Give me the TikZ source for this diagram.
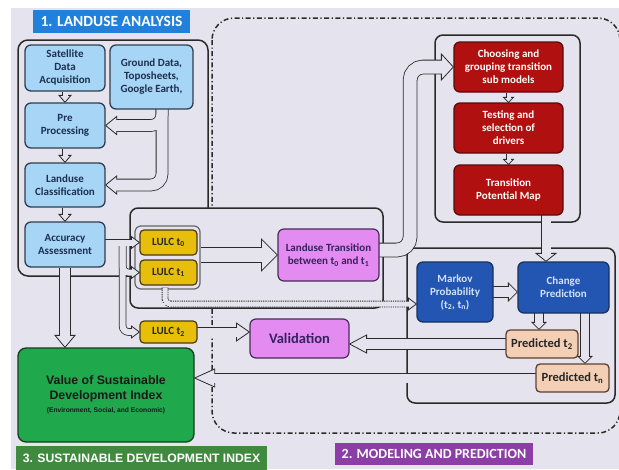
\documentclass[tikz,border=0pt]{standalone}
\usepackage{fontspec}
\setmainfont{Carlito}
\newfontfamily\arialf{Liberation Sans}
\usetikzlibrary{calc}
\pgfdeclarelayer{frames}
\pgfdeclarelayer{pipeO}
\pgfdeclarelayer{pipeH}
\pgfdeclarelayer{pipeI}
\pgfsetlayers{frames,pipeO,pipeH,pipeI,main}
\definecolor{bgc}{HTML}{E5E4EE}
\definecolor{linec}{HTML}{2A2A2A}
\definecolor{lblue}{HTML}{A6D5F5}
\definecolor{lbord}{HTML}{2F3E4E}
\definecolor{navyt}{HTML}{1E2F4F}
\definecolor{cgold}{HTML}{E8BE0C}
\definecolor{cgoldb}{HTML}{4A3A10}
\definecolor{cviol}{HTML}{E38BF1}
\definecolor{cviolb}{HTML}{4A2A5A}
\definecolor{cviolt}{HTML}{36225E}
\definecolor{cred}{HTML}{B0100F}
\definecolor{credb}{HTML}{5A0A0A}
\definecolor{cblue}{HTML}{2356B2}
\definecolor{cblueb}{HTML}{16325F}
\definecolor{cbluet}{HTML}{D3E3F8}
\definecolor{cpeach}{HTML}{F3CFB5}
\definecolor{cpeachb}{HTML}{5E4030}
\definecolor{cgreen}{HTML}{20A84C}
\definecolor{cgreenb}{HTML}{1B3A1E}
\definecolor{tblue}{HTML}{2080DA}
\definecolor{tpurple}{HTML}{8C3DA6}
\definecolor{tgreen}{HTML}{3F8A3E}
\newcommand\flowpipe[3][]{%
\begin{pgfonlayer}{pipeO}\draw[pipeout, line width={#2pt+1.6pt}, rounded corners=#2pt, #1] #3;\end{pgfonlayer}%
\begin{pgfonlayer}{pipeI}\draw[pipein, line width=#2pt, rounded corners=#2pt] #3;\end{pgfonlayer}}
\newcommand\headR[3]{\begin{pgfonlayer}{pipeH}\filldraw[headst] (#1) -- ++(-#3,#2) -- ++(0,{-2*#2}) -- cycle;\end{pgfonlayer}}
\newcommand\headL[3]{\begin{pgfonlayer}{pipeH}\filldraw[headst] (#1) -- ++(#3,#2) -- ++(0,{-2*#2}) -- cycle;\end{pgfonlayer}}
\newcommand\headD[3]{\begin{pgfonlayer}{pipeH}\filldraw[headst] (#1) -- ++(#2,-#3) -- ++({-2*#2},0) -- cycle;\end{pgfonlayer}}
\begin{document}
\begin{tikzpicture}[x=1pt,y=-1pt,
 sz/.style 2 args={minimum width=#1pt, minimum height=#2pt},
 lbox/.style={draw=lbord, fill=lblue, rounded corners=6pt, line width=1.3pt, text=navyt, font=\bfseries\fontsize{11}{13}\selectfont, align=center, inner sep=1pt},
 gbox/.style={draw=cgoldb, fill=cgold, rounded corners=4pt, line width=1.2pt, font=\bfseries\fontsize{11}{12}\selectfont, text=black!85, inner sep=1pt},
 vbox/.style={draw=cviolb, fill=cviol, rounded corners=6pt, line width=1.2pt, text=cviolt, align=center, inner sep=1pt},
 rbox/.style={draw=credb, fill=cred, rounded corners=6pt, line width=1.3pt, text=white, font=\bfseries\fontsize{11}{13}\selectfont, align=center, inner sep=1pt},
 bbox/.style={draw=cblueb, fill=cblue, rounded corners=6pt, line width=1.3pt, text=cbluet, font=\bfseries\fontsize{11}{13}\selectfont, align=center, inner sep=1pt},
 pbox/.style={draw=cpeachb, fill=cpeach, rounded corners=4pt, line width=1.3pt, font=\bfseries\fontsize{12.5}{14}\selectfont, text=black!85, inner sep=1pt},
 sdibox/.style={draw=cgreenb, fill=cgreen, rounded corners=8pt, line width=1.3pt, align=center, text=black!90, font=\arialf\bfseries\fontsize{12.3}{14.5}\selectfont, inner sep=1pt},
 ttl/.style={text=white, inner sep=0pt},
 frame/.style={draw=linec, line width=1.5pt, rounded corners=10pt},
 dashframe/.style={draw=linec, line width=1.5pt, rounded corners=22pt, dash pattern=on 5pt off 2.5pt on 1.2pt off 2.5pt},
 grpst/.style={draw=black!60, line width=1.2pt, rounded corners=6pt},
 pipeout/.style={draw=linec, line cap=butt},
 pipein/.style={draw=bgc, line cap=butt},
 headst/.style={draw=linec, fill=bgc, line width=0.8pt, line join=miter},
 dotout/.style={dash pattern=on 1.2pt off 1pt, draw=black!85}
]
\useasboundingbox (0,0) rectangle (619,469);
% ---------- boxes ----------
\node[lbox, sz={80}{46}] (sat) at (65,68) {Satellite\\Data\\Acquisition};
\node[lbox, sz={83}{64}] (ground) at (151.5,77) {Ground Data,\\Toposheets,\\Google Earth,};
\node[lbox, sz={80}{45}] (pre) at (65,125.5) {Pre\\Processing};
\node[lbox, sz={80}{44}] (cls) at (65,185) {Landuse\\Classification};
\node[lbox, sz={80}{45}] (acc) at (65,244.5) {Accuracy\\Assessment};
\node[gbox, sz={57}{25}] (lulc0) at (168.5,242.5) {LULC t\textsubscript{0}};
\node[gbox, sz={57}{25}] (lulc1) at (168.5,272.5) {LULC t\textsubscript{1}};
\node[gbox, sz={57}{22}] (lulc2) at (168.5,332) {LULC t\textsubscript{2}};
\node[vbox, sz={101}{52}, font=\bfseries\fontsize{11}{13.5}\selectfont] (trans) at (328.5,255) {Landuse Transition\\between t\textsubscript{0} and t\textsubscript{1}};
\node[vbox, sz={99}{39}, font=\bfseries\fontsize{14.5}{16}\selectfont] (valid) at (299.5,338.5) {Validation};
\node[rbox, sz={109}{50}] (red1) at (508.5,67) {Choosing and\\grouping transition\\sub models};
\node[rbox, sz={109}{50}] (red2) at (508.5,128) {Testing and\\selection of\\drivers};
\node[rbox, sz={109}{50}] (red3) at (508.5,190) {Transition\\Potential Map};
\node[bbox, sz={76}{60}] (markov) at (455,292) {Markov\\Probability\\(t\textsubscript{2}, t\textsubscript{n})};
\node[bbox, sz={91}{51}] (change) at (563.5,287.5) {Change\\Prediction};
\node[pbox, sz={72}{28}] (pred2) at (542,344) {Predicted t\textsubscript{2}};
\node[pbox, sz={73}{28}] (predn) at (572.5,378) {Predicted t\textsubscript{n}};
\node[sdibox, sz={176}{94}] (sdi) at (106,395) {Value of Sustainable\\Development Index\\[-1pt]\fontsize{6.7}{8}\selectfont (Environment, Social, and Economic)};
% ---------- titles ----------
\node[ttl, fill=tblue, sz={157}{23}, font=\bfseries\fontsize{15.5}{17}\selectfont] (t1) at (111.5,21.5) {1. LANDUSE ANALYSIS};
\node[ttl, fill=tpurple, sz={198}{22}, font=\bfseries\fontsize{14}{16}\selectfont] (t2) at (434,454) {2. MODELING AND PREDICTION};
\node[ttl, fill=tgreen, sz={251}{24}, font=\arialf\bfseries\fontsize{12.2}{14}\selectfont] (t3) at (141.5,458) {3. SUSTAINABLE DEVELOPMENT INDEX};
% ---------- frames ----------
\begin{pgfonlayer}{frames}
\fill[white] (0,0) rectangle (619,469);
\fill[bgc] (11,8) rectangle (619,469);
\draw[dashframe] (212,18) rectangle (620,433);
\draw[frame] (18,40) rectangle (208,276);
\draw[frame, fill=bgc, rounded corners=8pt] (130,208) rectangle (383,308);
\draw[frame, fill=bgc, rounded corners=8pt] (435,35) rectangle (580,222);
\draw[frame, fill=bgc, rounded corners=8pt] (407,248) rectangle (615,403);
\node[grpst, sz={65}{63}] (lulcg) at (167.5,257.5) {};
\end{pgfonlayer}
% ---------- connectors ----------
\flowpipe{5}{(sat.south) -- ($(pre.north)+(0,-6)$)}
\headD{pre.north}{6}{7}
\flowpipe{5}{(pre.south) -- ($(cls.north)+(0,-6)$)}
\headD{cls.north}{6}{7}
\flowpipe{5}{(cls.south) -- ($(acc.north)+(0,-6)$)}
\headD{acc.north}{6}{7}
\coordinate (gp) at ($(ground.south)+(10.5,-3)$);
\flowpipe{11}{(gp) -- (gp |- pre.east) -- ($(pre.east)+(10,0)$)}
\headL{pre.east}{9}{11}
\flowpipe{11}{(gp) -- (gp |- cls.east) -- ($(cls.east)+(10,0)$)}
\headL{cls.east}{9}{11}
\coordinate (aj) at ($(acc.east |- lulc0.west)+(17,0)$);
\flowpipe{6}{($(acc.east |- lulc0.west)+(-2,0)$) -- ($(lulc0.west)+(-7,0)$)}
\headR{lulc0.west}{6}{8}
\flowpipe{6}{(aj) -- (aj |- lulc1.west) -- ($(lulc1.west)+(-7,0)$)}
\headR{lulc1.west}{6}{8}
\flowpipe{6}{(aj) -- (aj |- lulc2.west) -- ($(lulc2.west)+(-7,0)$)}
\headR{lulc2.west}{6}{8}
\flowpipe{10}{(acc.south) -- ($(acc.south |- sdi.north)+(0,-11)$)}
\headD{acc.south |- sdi.north}{10}{12}
\flowpipe{14}{($(lulcg.east |- trans.west)+(0.7,0)$) -- ($(trans.west)+(-15,0)$)}
\headR{trans.west}{16}{16}
\coordinate (tr) at ($(trans.east)+(30.5,-5)$);
\flowpipe{13}{($(trans.east)+(-2,-5)$) -- (tr) -- (tr |- red1.west) -- ($(red1.west)+(-11,0)$)}
\headR{red1.west}{13}{12}
\flowpipe{4}{(red1.south) -- ($(red2.north)+(0,-4)$)}
\headD{red2.north}{5}{5}
\flowpipe{4}{(red2.south) -- ($(red3.north)+(0,-4)$)}
\headD{red3.north}{5}{5}
\coordinate (rc) at ($(red3.south)+(37.5,-2)$);
\flowpipe{9}{(rc) -- ($(rc |- change.north)+(0,-7)$)}
\headD{rc |- change.north}{10}{8}
\flowpipe{10}{($(markov.east)+(-2,0)$) -- ($(markov.east -| change.west)+(-8,0)$)}
\headR{markov.east -| change.west}{9}{9}
\coordinate (c2) at ($(change.south)+(-24.5,-2)$);
\flowpipe{8}{(c2) -- ($(c2 |- pred2.north)+(0,-6)$)}
\headD{c2 |- pred2.north}{7}{7}
\coordinate (c3) at ($(change.south)+(21.5,-2)$);
\flowpipe{8}{(c3) -- ($(c3 |- predn.north)+(0,-6)$)}
\headD{c3 |- predn.north}{7}{7}
\flowpipe{10}{($(pred2.west)+(2,0)$) -- ($(pred2.west -| valid.east)+(16,0)$)}
\headL{pred2.west -| valid.east}{9}{17}
\flowpipe{9}{($(predn.west)+(2,0)$) -- ($(predn.west -| sdi.east)+(19,0)$)}
\headL{predn.west -| sdi.east}{9}{20}
\flowpipe{9}{($(lulc2.east)+(-2,0)$) -- ($(lulc2.east -| valid.west)+(-12,0)$)}
\headR{lulc2.east -| valid.west}{9}{13}
\coordinate (dp) at ($(lulcg.south)+(-2.5,-2)$);
\coordinate (mk) at ($(markov.west)+(0,12)$);
\flowpipe[dotout]{5}{(dp) -- (dp |- mk) -- ($(mk)+(-7,0)$)}
\headR{mk}{6}{8}
\end{tikzpicture}
\end{document}
